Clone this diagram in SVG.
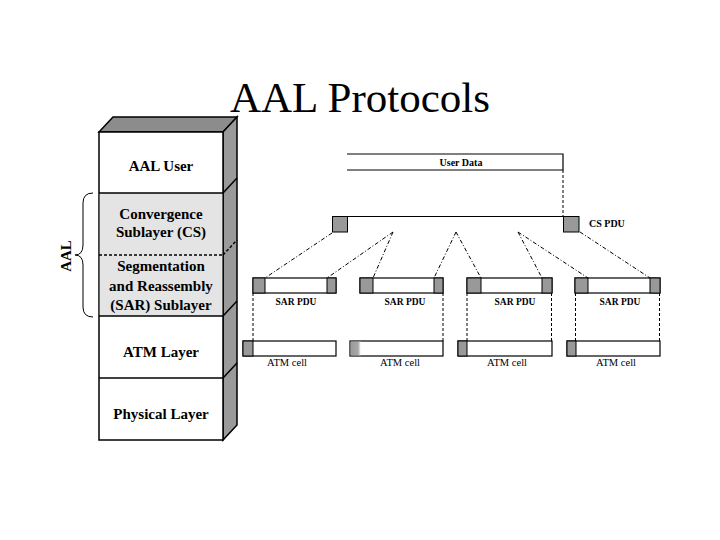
<svg xmlns="http://www.w3.org/2000/svg" width="720" height="540" viewBox="0 0 720 540">
<style>
.t{font-family:"Liberation Serif","Times New Roman",serif;fill:#000}
.b{font-weight:bold}
.st{font-family:"Liberation Serif",serif;font-weight:bold;font-size:15px;text-anchor:middle}
.edge{stroke:#000;stroke-width:1.5;fill:none}
.box{fill:#fff;stroke:#000;stroke-width:1.2}
.g{fill:#999;stroke:#000;stroke-width:1}
.dash{stroke:#000;stroke-width:1;stroke-dasharray:3 2;fill:none}
.dd{stroke:#000;stroke-width:1;stroke-dasharray:4 2 1 2;fill:none}
.sm{font-family:"Liberation Serif",serif;text-anchor:middle}
</style>
<defs>
<linearGradient id="fade" x1="0" y1="0" x2="1" y2="0">
<stop offset="0" stop-color="#9a9a9a"/><stop offset="0.75" stop-color="#a8a8a8"/><stop offset="1" stop-color="#f4f4f4"/>
</linearGradient>
</defs>
<rect width="720" height="540" fill="#fff"/>
<text class="t" x="360" y="112" font-size="43" text-anchor="middle">AAL Protocols</text>

<g id="stack">
  <polygon points="99,132 113,117 237,117 223,132" fill="#8c8c8c" stroke="#000" stroke-width="1.5"/>
  <polygon points="223,132 237,117 237,425 223,440" fill="#9a9a9a" stroke="#000" stroke-width="1.5"/>
  <rect x="99" y="132" width="124" height="308" fill="#fff" stroke="#000" stroke-width="1.5"/>
  <rect x="99.8" y="193" width="122.4" height="123" fill="#e4e4e4"/>
  <line class="edge" x1="99" y1="193" x2="223" y2="193"/>
  <line class="edge" x1="99" y1="316" x2="223" y2="316"/>
  <line class="edge" x1="99" y1="378" x2="223" y2="378"/>
  <line x1="99" y1="255" x2="223" y2="255" stroke="#000" stroke-width="1.5" stroke-dasharray="3 2"/>
  <line class="edge" x1="223" y1="193" x2="237" y2="178"/>
  <line class="edge" x1="223" y1="316" x2="237" y2="301"/>
  <line class="edge" x1="223" y1="378" x2="237" y2="363"/>
  <line x1="223" y1="255" x2="237" y2="240" stroke="#000" stroke-width="1.5" stroke-dasharray="3 2"/>
</g>
<g id="aal-user"><text class="st" x="161" y="171">AAL User</text></g>
<g id="cs"><text class="st" x="161" y="219">Convergence</text><text class="st" x="161" y="237">Sublayer (CS)</text></g>
<g id="sar"><text class="st" x="161" y="271">Segmentation</text><text class="st" x="161" y="291">and Reassembly</text><text class="st" x="161" y="310">(SAR) Sublayer</text></g>
<g id="atm-layer"><text class="st" x="161" y="357">ATM Layer</text></g>
<g id="physical"><text class="st" x="161" y="419">Physical Layer</text></g>
<g id="aal-brace">
  <path d="M93,193 Q83,193 83,203 L83,245 Q83,255 75,255 Q83,255 83,265 L83,307 Q83,317 93,317" fill="none" stroke="#000" stroke-width="1"/>
  <text class="t b" font-size="15" text-anchor="middle" transform="translate(66,256) rotate(-90)" dy="5">AAL</text>
</g>

<g id="user-data">
  <path class="box" d="M347,154 L563,154 L563,170 L347,170" fill="none"/>
  <text class="sm b" x="461" y="165.5" font-size="10">User Data</text>
</g>
<g id="cs-pdu">
  <line x1="333" y1="216.5" x2="579" y2="216.5" stroke="#000" stroke-width="1.2"/>
  <rect class="g" x="332.5" y="216.5" width="15" height="15.5"/>
  <rect class="g" x="563.5" y="216.5" width="15.5" height="15.5"/>
  <text class="t b" x="589" y="227" font-size="10">CS PDU</text>
</g>
<g id="sar-pdu-1">
  <rect class="box" x="253" y="278" width="83" height="15"/>
  <rect class="g" x="253" y="278" width="12" height="15"/>
  <rect class="g" x="327" y="278" width="9" height="15"/>
  <text class="sm b" x="296" y="305" font-size="9.5">SAR PDU</text>
</g>
<g id="sar-pdu-2">
  <rect class="box" x="360" y="278" width="83" height="15"/>
  <rect class="g" x="360" y="278" width="13" height="15"/>
  <rect class="g" x="434" y="278" width="9" height="15"/>
  <text class="sm b" x="405" y="305" font-size="9.5">SAR PDU</text>
</g>
<g id="sar-pdu-3">
  <rect class="box" x="467" y="278" width="85" height="15"/>
  <rect class="g" x="467" y="278" width="14" height="15"/>
  <rect class="g" x="542" y="278" width="10" height="15"/>
  <text class="sm b" x="515" y="305" font-size="9.5">SAR PDU</text>
</g>
<g id="sar-pdu-4">
  <rect class="box" x="575" y="278" width="85" height="15"/>
  <rect class="g" x="575" y="278" width="13" height="15"/>
  <rect class="g" x="650" y="278" width="10" height="15"/>
  <text class="sm b" x="620" y="305" font-size="9.5">SAR PDU</text>
</g>
<g id="atm-cell-1">
  <rect class="box" x="243" y="341" width="93" height="15"/>
  <rect class="g" x="243" y="341" width="10" height="15"/>
  <text class="sm" x="287" y="366" font-size="10.5">ATM cell</text>
</g>
<g id="atm-cell-2">
  <rect class="box" x="350" y="341" width="93" height="15"/>
  <rect x="350.6" y="341.6" width="10" height="13.8" fill="url(#fade)"/>
  <text class="sm" x="400" y="366" font-size="10.5">ATM cell</text>
</g>
<g id="atm-cell-3">
  <rect class="box" x="458" y="341" width="94" height="15"/>
  <rect class="g" x="458" y="341" width="9" height="15"/>
  <text class="sm" x="507" y="366" font-size="10.5">ATM cell</text>
</g>
<g id="atm-cell-4">
  <rect class="box" x="567" y="341" width="93" height="15"/>
  <rect class="g" x="567" y="341" width="9" height="15"/>
  <text class="sm" x="616" y="366" font-size="10.5">ATM cell</text>
</g>

<g id="connectors">
  <line class="dash" x1="563" y1="170" x2="563" y2="216"/>
  <line class="dd" x1="332" y1="233" x2="265" y2="278"/>
  <line class="dd" x1="393" y1="232" x2="327" y2="278"/>
  <line class="dd" x1="393" y1="232" x2="373" y2="278"/>
  <line class="dd" x1="456" y1="232" x2="434" y2="278"/>
  <line class="dd" x1="456" y1="232" x2="481" y2="278"/>
  <line class="dd" x1="518" y1="232" x2="542" y2="278"/>
  <line class="dd" x1="518" y1="232" x2="588" y2="278"/>
  <line class="dd" x1="580" y1="232" x2="650" y2="278"/>
  <line class="dash" x1="253" y1="293" x2="253" y2="341"/>
  <line class="dash" x1="443" y1="293" x2="443" y2="341"/>
  <line class="dash" x1="467" y1="293" x2="467" y2="341"/>
  <line class="dash" x1="551.5" y1="293" x2="551.5" y2="341"/>
  <line class="dash" x1="575.5" y1="293" x2="575.5" y2="341"/>
  <line class="dash" x1="659.5" y1="293" x2="659.5" y2="341"/>
</g>
</svg>
